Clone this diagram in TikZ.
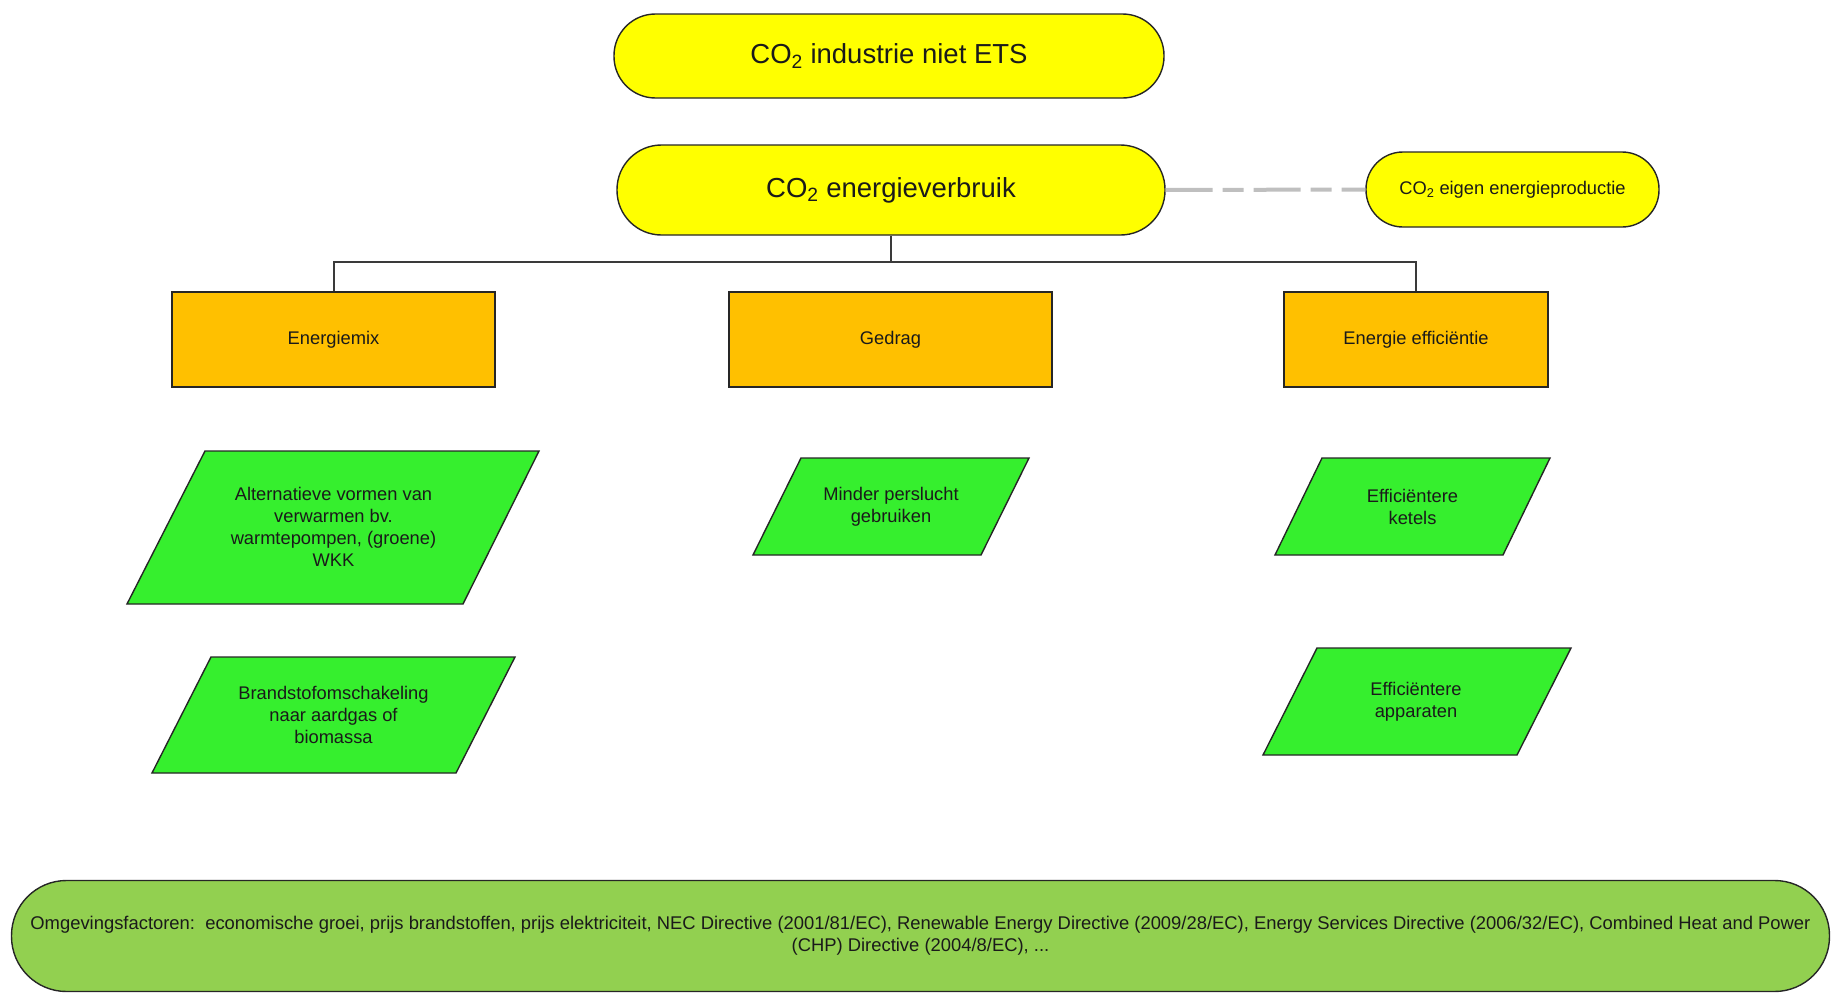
\documentclass[tikz,border=0pt]{standalone}
\usepackage{fontspec}
\setmainfont{Liberation Sans}
\definecolor{txt}{HTML}{1A1A1A}
\definecolor{edge}{HTML}{262626}
\definecolor{pillyellow}{HTML}{FFFF00}
\definecolor{boxorange}{HTML}{FFC000}
\definecolor{measuregreen}{HTML}{36EF2E}
\definecolor{envgreen}{HTML}{92D050}
\definecolor{linkgray}{HTML}{BFBFBF}
\definecolor{busgray}{HTML}{3A3A3A}
\begin{document}
\begin{tikzpicture}[x=1pt,y=-1pt,
  every node/.style={text=txt, inner sep=0pt, align=center},
  bigtext/.style={font=\fontsize{27.5}{33}\selectfont},
  smalltext/.style={font=\fontsize{18.3}{22}\selectfont},
  pill/.style={draw=edge, line width=1.4pt, fill=pillyellow},
  catbox/.style={draw=edge, line width=1.6pt, fill=boxorange, smalltext},
  measure/.style={draw=edge, line width=1.4pt, fill=measuregreen},
  envpill/.style={draw=edge, line width=1.4pt, fill=envgreen, font=\fontsize{18.4}{22}\selectfont},
  bus/.style={draw=busgray, line width=2pt},
  link/.style={draw=linkgray, line width=4pt, dash pattern=on 47pt off 10pt on 21pt off 10pt}
]
\useasboundingbox (0,0) rectangle (1831,993);

% top level
\node[pill, bigtext, minimum width=550pt, minimum height=84pt, rounded corners=41.5pt]
  (total) at (889,56) {CO\textsubscript{2} industrie niet ETS};
\node[pill, bigtext, minimum width=548pt, minimum height=90pt, rounded corners=44.5pt]
  (use) at (891,190) {CO\textsubscript{2} energieverbruik};
\node[pill, smalltext, minimum width=293pt, minimum height=75pt, rounded corners=37pt]
  (own) at (1512.5,189.5) {CO\textsubscript{2} eigen energieproductie};

% categories
\node[catbox, minimum width=323pt, minimum height=95pt] (mix) at (333.5,339.5) {Energiemix};
\node[catbox, minimum width=323pt, minimum height=95pt] (gedrag) at (890.5,339.5) {Gedrag};
\node[catbox, minimum width=264pt, minimum height=95pt] (eff) at (1416,339.5) {Energie efficiëntie};

% connectors
\coordinate (busmid) at (891,262);
\draw[bus] (use.south) -- (busmid);
\draw[bus] (mix.north) |- (busmid) -| (eff.north);
\draw[link] (use.east) -- (own.west);

% measures (parallelograms)
\filldraw[measure] (205,451) -- (539,451) -- (463,604) -- (127,604) -- cycle;
\node[smalltext] (alt) at (333.5,527) {Alternatieve vormen van\\verwarmen bv.\\warmtepompen, (groene)\\WKK};

\filldraw[measure] (211,657) -- (515,657) -- (456,773) -- (152,773) -- cycle;
\node[smalltext] (fuel) at (333.5,715) {Brandstofomschakeling\\naar aardgas of\\biomassa};

\filldraw[measure] (801,458) -- (1029,458) -- (981,555) -- (753,555) -- cycle;
\node[smalltext] (air) at (891,506.5) {Minder perslucht\\gebruiken};

\filldraw[measure] (1322,458) -- (1550,458) -- (1503,555) -- (1275,555) -- cycle;
\node[smalltext] (boil) at (1412.5,506.5) {Efficiëntere\\ketels};

\filldraw[measure] (1317,648) -- (1571,648) -- (1517,755) -- (1263,755) -- cycle;
\node[smalltext] (dev) at (1416,701.5) {Efficiëntere\\apparaten};

% external factors
\node[envpill, minimum width=1818pt, minimum height=111pt, rounded corners=55pt]
  (env) at (920.5,936) {Omgevingsfactoren:\ \ economische groei, prijs brandstoffen, prijs elektriciteit, NEC Directive (2001/81/EC), Renewable Energy Directive (2009/28/EC), Energy Services Directive (2006/32/EC), Combined Heat and Power\\(CHP) Directive (2004/8/EC), ...};
\end{tikzpicture}
\end{document}
